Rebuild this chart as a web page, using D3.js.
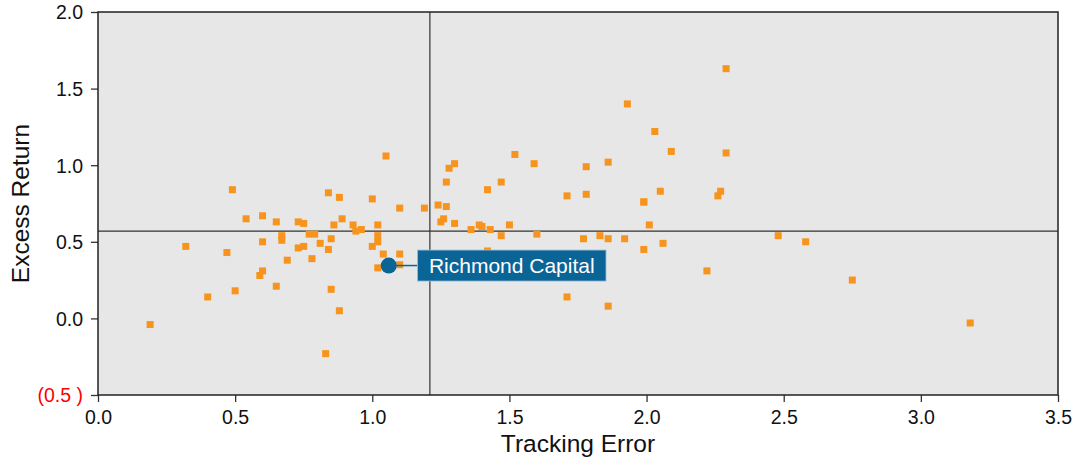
<!DOCTYPE html>
<html><head><meta charset="utf-8">
<script src="https://cdn.jsdelivr.net/npm/d3@7"></script>
<style>body{margin:0;background:#fff;font-family:"Liberation Sans",Arial,sans-serif;}</style>
</head><body><svg id="c" width="1075" height="460"></svg>
<script>
const trackingError = [0.19,0.32,0.40,0.47,0.49,0.50,0.54,0.59,0.60,0.60,0.60,0.65,0.65,0.67,0.67,0.69,0.73,0.73,0.75,0.75,0.77,0.78,0.79,0.81,0.84,0.84,0.85,0.83,0.85,0.86,0.88,0.88,0.89,0.93,0.94,0.96,1.00,1.00,1.02,1.02,1.02,1.02,1.05,1.04,1.10,1.10,1.10,1.19,1.24,1.25,1.26,1.27,1.27,1.30,1.28,1.30,1.36,1.39,1.40,1.43,1.42,1.42,1.47,1.47,1.50,1.52,1.59,1.60,1.71,1.71,1.77,1.78,1.78,1.83,1.86,1.86,1.86,1.92,1.93,1.99,1.99,1.99,2.01,2.03,2.05,2.06,2.09,2.22,2.26,2.27,2.29,2.29,2.48,2.58,2.75,3.18];
const excessReturn = [-0.04,0.47,0.14,0.43,0.84,0.18,0.65,0.28,0.50,0.67,0.31,0.63,0.21,0.54,0.51,0.38,0.63,0.46,0.47,0.62,0.55,0.39,0.55,0.49,0.82,0.45,0.19,-0.23,0.52,0.61,0.79,0.05,0.65,0.61,0.57,0.58,0.47,0.78,0.61,0.54,0.50,0.33,1.06,0.42,0.42,0.35,0.72,0.72,0.74,0.63,0.65,0.89,0.73,0.62,0.98,1.01,0.58,0.61,0.60,0.58,0.84,0.44,0.89,0.54,0.61,1.07,1.01,0.55,0.80,0.14,0.52,0.81,0.99,0.54,1.02,0.08,0.52,0.52,1.40,0.76,0.45,0.76,0.61,1.22,0.83,0.49,1.09,0.31,0.80,0.83,1.63,1.08,0.54,0.50,0.25,-0.03];
const xTicks = [0,0.5,1.0,1.5,2.0,2.5,3.0,3.5];
const yTicks = [-0.5,0,0.5,1.0,1.5,2.0];
const avgTrackingError = 1.21;
const avgExcessReturn = 0.57;
const highlightName = "Richmond Capital";
const highlightPoint = [1.06, 0.345];

const svg = d3.select("#c");
const m = {l:98, r:1058, t:12, b:395};
const x = d3.scaleLinear().domain([0,3.5]).range([m.l, m.r]);
const y = d3.scaleLinear().domain([-0.5,2.0]).range([m.b, m.t]);

svg.append("rect").attr("x",m.l).attr("y",m.t).attr("width",m.r-m.l).attr("height",m.b-m.t).attr("fill","#e7e7e7");

const xa = svg.append("g").attr("transform",`translate(0,${m.b})`)
  .call(d3.axisBottom(x).tickValues(xTicks).tickFormat(d3.format(".1f")).tickSize(7).tickSizeOuter(0));
const ya = svg.append("g").attr("transform",`translate(${m.l},0)`)
  .call(d3.axisLeft(y).tickValues(yTicks).tickFormat(d => d < 0 ? `(${d3.format(".1f")(-d)} )` : d3.format(".1f")(d)).tickSize(7).tickSizeOuter(0));
[xa,ya].forEach(a=>{a.select(".domain").remove();a.selectAll("line").attr("stroke","#333").attr("stroke-width",1.3);
  a.selectAll("text").attr("font-family","Liberation Sans, Arial, sans-serif").attr("font-size",19.5).attr("fill","#111");});
xa.selectAll("text").attr("y",10).attr("dy","0.95em");
ya.selectAll("text").attr("x",-15).attr("dy","0.35em").attr("fill", d => d < 0 ? "#f00" : "#111");

// average lines
svg.append("line").attr("x1",x(avgTrackingError)).attr("x2",x(avgTrackingError)).attr("y1",m.t).attr("y2",m.b).attr("stroke","#333").attr("stroke-width",1.2);
svg.append("line").attr("x1",m.l).attr("x2",m.r).attr("y1",y(avgExcessReturn)).attr("y2",y(avgExcessReturn)).attr("stroke","#333").attr("stroke-width",1.2);

// points
const pts = trackingError.map((t,i)=>({x:t,y:excessReturn[i]}));
svg.append("g").selectAll("rect").data(pts).join("rect")
  .attr("x",d=>x(d.x)-3.5).attr("y",d=>y(d.y)-3.5).attr("width",7).attr("height",7).attr("fill","#f7941d");

// highlight
const hx = x(highlightPoint[0]), hy = y(highlightPoint[1]);
const bx = 417.5, bw = 188.5, bh = 31;
svg.append("line").attr("x1",hx).attr("x2",bx).attr("y1",hy).attr("y2",hy).attr("stroke","#0a6496").attr("stroke-width",1.5);
svg.append("rect").attr("x",bx).attr("y",hy-bh/2).attr("width",bw).attr("height",bh).attr("fill","#0a6496").attr("stroke","#9fbfd6").attr("stroke-width",0.8);
svg.append("text").attr("x",bx+bw/2).attr("y",hy+7.5).attr("text-anchor","middle").attr("font-size",21).attr("fill","#fff").text(highlightName);
svg.append("circle").attr("cx",hx).attr("cy",hy).attr("r",8).attr("fill","#0a6496");

// frame
svg.append("rect").attr("x",m.l).attr("y",m.t).attr("width",m.r-m.l).attr("height",m.b-m.t).attr("fill","none").attr("stroke","#222").attr("stroke-width",1.5);

svg.append("text").attr("x",(m.l+m.r)/2).attr("y",452).attr("text-anchor","middle").attr("font-size",24.5).attr("fill","#111").text("Tracking Error");
svg.append("text").attr("transform",`translate(29,${(m.t+m.b)/2}) rotate(-90)`).attr("text-anchor","middle").attr("font-size",24.5).attr("fill","#111").text("Excess Return");
</script></body></html>
